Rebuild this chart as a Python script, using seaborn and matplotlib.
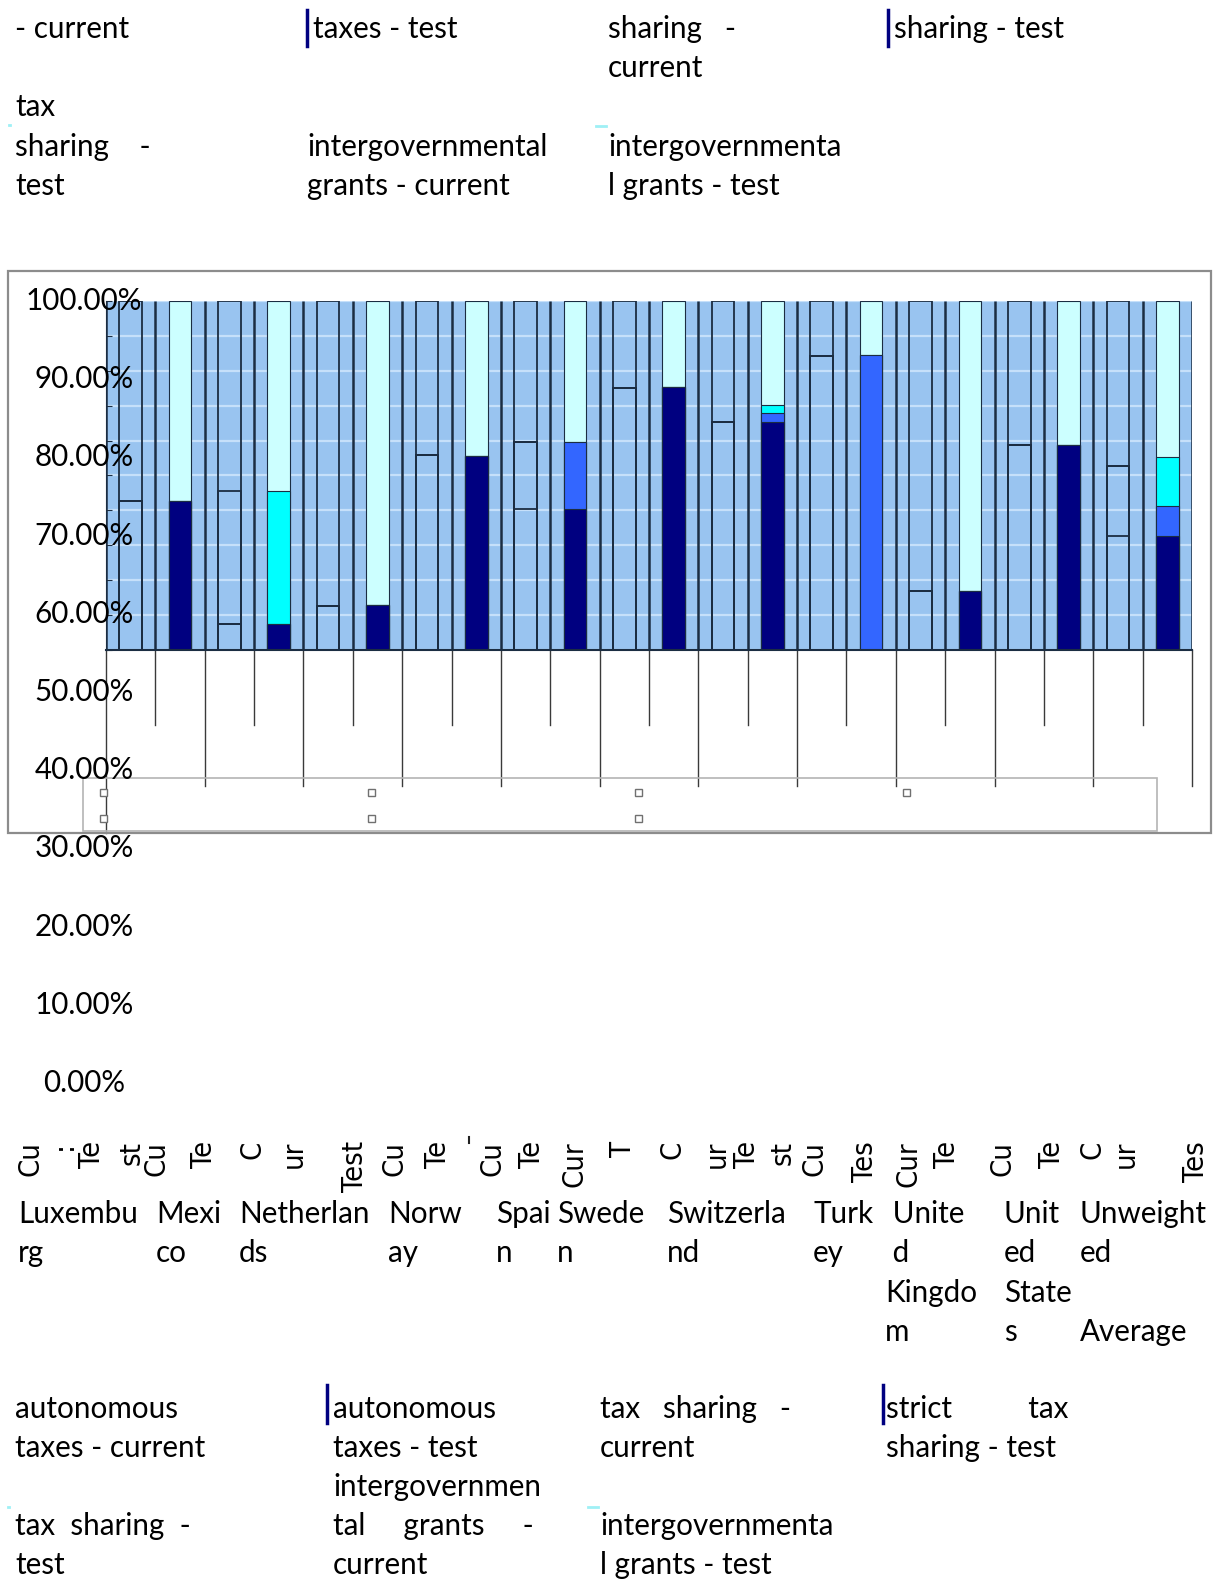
import numpy as np
import pandas as pd
import seaborn as sns
import matplotlib.pyplot as plt
from matplotlib.patches import Rectangle
from matplotlib.lines import Line2D
from matplotlib.transforms import blended_transform_factory

# ---- data (shares in %, stacked bottom -> top) ----
countries = ["Luxembourg", "Mexico", "Netherlands", "Norway", "Spain", "Sweden",
             "Switzerland", "Turkey", "United Kingdom", "United States", "Unweighted Average"]
test_autonomous = [74.5, 58.7, 61.2, 80.2, 73.4, 89.0, 84.6, 0.0, 63.0, 81.6, 70.0]
test_strict     = [0.0, 0.0, 0.0, 0.0, 8.6, 0.0, 1.1, 93.1, 0.0, 0.0, 3.8]
test_sharing    = [0.0, 17.0, 0.0, 0.0, 0.0, 0.0, 1.0, 0.0, 0.0, 0.0, 6.3]
test_grants     = [25.5, 24.3, 38.8, 19.8, 18.0, 11.0, 13.3, 6.9, 37.0, 18.4, 19.9]
cur_autonomous  = [74.4, 58.7, 61.0, 80.3, 73.4, 88.9, 84.5, 0.0, 63.0, 81.6, 70.0]
cur_strict      = [0.0, 0.0, 0.0, 0.0, 8.6, 0.0, 0.0, 93.0, 0.0, 0.0, 8.9]
cur_sharing     = [0.0, 17.0, 0.0, 0.0, 0.0, 0.0, 0.0, 0.0, 0.0, 0.0, 0.0]
cur_grants      = [25.6, 24.3, 39.0, 19.7, 18.0, 11.1, 15.5, 7.0, 37.0, 18.4, 21.1]
y_ticks = [0, 10, 20, 30, 40, 50, 60, 70, 80, 90, 100]

# garbled label fragments as they appear in the picture
rot_labels = [(30, "Cu"), (64, ":"), (92, "Te"), (132, "st"), (157, "Cu"), (204, "Te"),
              (253, "C"), (294, "ur"), (355, "Test"), (394, "Cu"), (438, "Te"),
              (492, "Cu"), (532, "Te"), (574, "Cur"), (623, "T"), (672, "C"), (717, "ur"),
              (747, "Te"), (783, "st"), (815, "Cu"), (865, "Tes"), (909, "Cur"), (947, "Te"),
              (1002, "Cu"), (1052, "Te"), (1093, "C"), (1126, "ur"), (1196, "Tes")]
country_lines = [(18, ["Luxembu", "rg"]), (156, ["Mexi", "co"]), (239, ["Netherlan", "ds"]),
                 (388, ["Norw", "ay"]), (496, ["Spai", "n"]), (557, ["Swede", "n"]),
                 (667, ["Switzerla", "nd"]), (813, ["Turk", "ey"]),
                 (885, [" Unite", " d", "Kingdo", "m"]), (1004, ["Unit", "ed", "State", "s"]),
                 (1080, ["Unweight", "ed", "", "Average"])]
top_text = [(15, 0, "- current"), (313, 0, "taxes - test"), (608, 0, "sharing   -"),
            (608, 1, "current"), (894, 0, "sharing - test"), (15, 2, "tax"),
            (15, 3, "sharing    -"), (15, 4, "test"), (307, 3, "intergovernmental"),
            (307, 4, "grants - current"), (608, 3, "intergovernmenta"), (608, 4, "l grants - test")]
bottom_text = [(15, 0, "autonomous"), (15, 1, "taxes - current"), (333, 0, "autonomous"),
               (333, 1, "taxes - test"), (333, 2, "intergovernmen"), (333, 3, "tal     grants     -"),
               (333, 4, "current"), (600, 0, "tax   sharing   -"), (600, 1, "current"),
               (886, 0, "strict          tax"), (886, 1, "sharing - test"), (15, 3, "tax  sharing  -"),
               (15, 4, "test"), (600, 3, "intergovernmenta"), (600, 4, "l grants - test")]

W, H = 1218, 1580
FS = 21.3
NAVY, BLUE, CYAN, LIGHT = "#000080", "#3366ff", "#00ffff", "#ccffff"
BG, GRID, DARK = "#99c4f0", "#c6e0fa", "#1b2d42"
BASE = 55.4


def fx(x):
    return x / W


def fy(y):
    return 1 - y / H


def build(auto, strict, share, grants, scen):
    df = pd.DataFrame({"country": countries, "auto": auto, "strict": strict,
                       "share": share, "grants": grants})
    df["bar"] = df["country"] + " " + scen
    df["lvl1"] = df["auto"]
    df["lvl2"] = df["lvl1"] + df["strict"]
    df["lvl3"] = df["lvl2"] + df["share"]
    df["lvl4"] = df["lvl3"] + df["grants"]
    return df


test_df = build(test_autonomous, test_strict, test_sharing, test_grants, "Test")
cur_df = build(cur_autonomous, cur_strict, cur_sharing, cur_grants, "Current")
order = [f"{c} {s}" for c in countries for s in ("Current", "Test")]

plt.rcParams["font.family"] = ["Lato", "DejaVu Sans"]
fig = plt.figure(figsize=(W / 100, H / 100), dpi=100)

# outer frame of the chart object
fig.add_artist(Rectangle((fx(8), fy(833)), (1211 - 8) / W, (833 - 271) / H,
                         transform=fig.transFigure, fill=False, ec="#8c8c8c", lw=1.6))

ax = fig.add_axes([fx(106), fy(650), (1192 - 106) / W, (650 - 301) / H])
ax.set_facecolor(BG)

for col, colr in [("lvl4", LIGHT), ("lvl3", CYAN), ("lvl2", BLUE), ("lvl1", NAVY)]:
    sns.barplot(data=test_df, x="bar", y=col, order=order, color=colr, saturation=1,
                width=0.46, edgecolor=DARK, linewidth=0.8, errorbar=None, ax=ax)
for col in ["lvl4", "lvl3", "lvl2", "lvl1"]:
    sns.barplot(data=cur_df, x="bar", y=col, order=order, color=DARK, fill=False,
                width=0.46, linewidth=1.3, errorbar=None, ax=ax)

ax.set_xlim(-0.5, len(order) - 0.5)
ax.set_ylim(BASE, 100)
ax.set_xticks([])
ax.set_yticks(np.linspace(BASE, 100, 11))
ax.set_yticklabels([])
ax.tick_params(axis="y", direction="in", length=4, color=DARK)
ax.grid(axis="y", color=GRID, lw=1.6)
ax.set_axisbelow(True)
ax.set_xlabel("")
ax.set_ylabel("")
for s in ["top", "right"]:
    ax.spines[s].set_visible(False)
ax.spines["left"].set_color(DARK)
ax.spines["bottom"].set_color(DARK)
ax.spines["bottom"].set_linewidth(1.5)

# category separators and the hanging tick lines below the plot
ax.vlines(np.arange(-0.5, len(order)), BASE, 100, color=DARK, lw=1.8, zorder=1.5)
xt = ax.get_xaxis_transform()
span = 650 - 301
for k in range(len(order) + 1):
    end_px = 833 if k == 0 else (725 if k % 2 == 1 else 786)
    ax.add_line(Line2D([k - 0.5, k - 0.5], [0, -(end_px - 650) / span], transform=xt,
                       clip_on=False, color="#3a3a3a", lw=1.0))

# broken legend box inside the frame
fig.add_artist(Rectangle((fx(83), fy(831)), (1157 - 83) / W, (831 - 778) / H,
                         transform=fig.transFigure, fill=False, ec="#b4b4b4", lw=1.2))
for sx, sy in [(103, 792), (371, 792), (638, 792), (906, 792), (103, 818), (371, 818), (638, 818)]:
    fig.add_artist(Rectangle((fx(sx - 3.5), fy(sy + 3.5)), 7 / W, 7 / H, transform=fig.transFigure,
                             fc="white", ec="#707070", lw=1))

# y tick labels on a 0-100 scale
ax_t = fig.add_axes([fx(32), fy(1083), (136 - 32) / W, (1083 - 301) / H], zorder=5)
ax_t.set_ylim(0, 100)
ax_t.axis("off")
bt = blended_transform_factory(ax_t.transAxes, ax_t.transData)
for v in y_ticks:
    ax_t.text(0.5, v, f"{v:.2f}%", transform=bt, ha="center", va="center", fontsize=FS)

# rotated fragments and country names
for x, s in rot_labels:
    fig.text(fx(x), fy(1141), s, rotation=90, ha="center", va="top", fontsize=21,
             family="DejaVu Sans", fontstretch="condensed")
# tiny stray mark left of a fragment
fig.add_artist(Line2D([fx(469), fx(469)], [fy(1137), fy(1143)], transform=fig.transFigure,
                      color="#222222", lw=1.5))
for x, lines in country_lines:
    for i, s in enumerate(lines):
        fig.text(fx(x), fy(1223 + 39.3 * i), s, ha="left", va="baseline", fontsize=FS)

for x, i, s in top_text:
    fig.text(fx(x), fy(38 + 39.2 * i), s, ha="left", va="baseline", fontsize=FS)
for x, i, s in bottom_text:
    fig.text(fx(x), fy(1418 + 39.1 * i), s, ha="left", va="baseline", fontsize=FS)

for x, y0, y1 in [(307, 10, 46), (888, 10, 46), (327, 1385, 1423), (883, 1385, 1423)]:
    fig.add_artist(Line2D([fx(x), fx(x)], [fy(y0), fy(y1)], transform=fig.transFigure,
                          color=NAVY, lw=2.5))
for x0, x1, y in [(9, 10, 125), (596, 606, 126), (8, 9, 1507), (588, 598, 1507)]:
    fig.add_artist(Line2D([fx(x0), fx(x1)], [fy(y), fy(y)], transform=fig.transFigure,
                          color="#9ff0f5", lw=2))

fig.savefig("out.png", dpi=100)
